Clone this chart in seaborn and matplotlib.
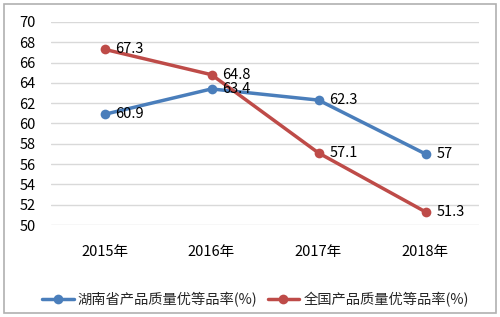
import pandas as pd
import matplotlib
matplotlib.use('Agg')
import matplotlib.pyplot as plt
import seaborn as sns
from matplotlib.patches import Rectangle

years = ['2015年', '2016年', '2017年', '2018年']
hunan = [60.9, 63.4, 62.3, 57]
china = [67.3, 64.8, 57.1, 51.3]
series_names = ['湖南省产品质量优等品率(%)', '全国产品质量优等品率(%)']
colours = ['#4a7ebb', '#be4b48']

df = pd.DataFrame({'year': years * 2,
                   'value': hunan + china,
                   'series': [series_names[0]] * 4 + [series_names[1]] * 4})

sns.set_theme(style='white')
plt.rcParams['font.family'] = ['Noto Sans CJK SC', 'DejaVu Sans']

fig = plt.figure(figsize=(5, 3.17), dpi=100)
ax = fig.add_axes([0.102, 0.290, 0.856, 0.641])

sns.lineplot(ax=ax, data=df, x='year', y='value', hue='series',
             palette=colours, marker='o', markersize=7, markeredgewidth=0,
             linewidth=2.5, sort=False)

for vals, s in zip([hunan, china], series_names):
    for i, v in enumerate(vals):
        ax.annotate(f'{v:g}', (i, v), xytext=(8, 0), textcoords='offset points',
                    ha='left', va='center', fontsize=10.5, color='#000000')

ax.set_xlim(-0.5, 3.5)
ax.set_ylim(50, 70)
ax.set_yticks(range(50, 71, 2))
ax.grid(axis='y', color='#d9d9d9', linewidth=1)
ax.set_axisbelow(True)
for sp in ax.spines.values():
    sp.set_visible(False)
ax.tick_params(axis='both', length=0, labelsize=10.5, colors='#000000')
ax.tick_params(axis='x', pad=14)
ax.tick_params(axis='y', pad=11)
ax.set_xlabel('')
ax.set_ylabel('')

ax.legend(loc='upper center', bbox_to_anchor=(0.478, -0.265), ncol=2, frameon=False,
          fontsize=10.3, handlelength=2.2, columnspacing=0.7, handletextpad=0.3)

fig.patches.append(Rectangle((0.008, 0.012), 0.984, 0.976, transform=fig.transFigure,
                             fill=False, edgecolor='#b0b0b0', linewidth=1.2))

fig.savefig('out.png', dpi=100)
